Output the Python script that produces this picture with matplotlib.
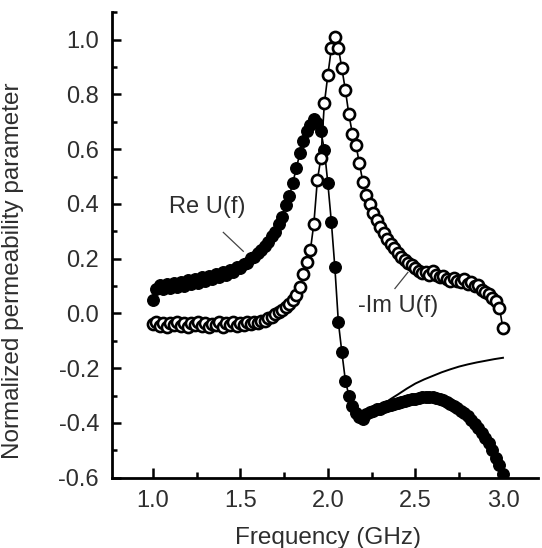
import numpy as np
import matplotlib
matplotlib.use("Agg")
import matplotlib.pyplot as plt
from matplotlib.ticker import MultipleLocator, FormatStrFormatter

plt.rcParams['font.family'] = ['Liberation Sans', 'DejaVu Sans']

# Frequency sweep (GHz), 0.02 GHz steps
freq = np.linspace(1.0, 3.0, 101)

# Real part of normalized permeability parameter
re_u = [
    0.050, 0.088, 0.104, 0.088, 0.108, 0.092, 0.112, 0.096, 0.116, 0.102,
    0.122, 0.106, 0.126, 0.112, 0.132, 0.118, 0.138, 0.124, 0.144, 0.134,
    0.152, 0.142, 0.160, 0.152, 0.168, 0.166, 0.182, 0.186, 0.202, 0.206,
    0.222, 0.230, 0.248, 0.260, 0.282, 0.298, 0.327, 0.353, 0.397, 0.428,
    0.478, 0.530, 0.585, 0.630, 0.665, 0.690, 0.710, 0.695, 0.665, 0.598,
    0.475, 0.334, 0.168, -0.032, -0.142, -0.245, -0.300, -0.337, -0.362, -0.380,
    -0.385, -0.368, -0.360, -0.356, -0.350, -0.350, -0.342, -0.338, -0.335, -0.330,
    -0.328, -0.322, -0.320, -0.316, -0.314, -0.312, -0.308, -0.306, -0.305, -0.305,
    -0.307, -0.310, -0.312, -0.318, -0.324, -0.330, -0.338, -0.346, -0.355, -0.365,
    -0.376, -0.390, -0.405, -0.420, -0.438, -0.455, -0.475, -0.500, -0.528, -0.555,
    -0.585,
]

# Negative imaginary part
neg_im_u = [
    -0.040, -0.032, -0.045, -0.036, -0.048, -0.034, -0.044, -0.030, -0.046, -0.036,
    -0.050, -0.034, -0.042, -0.030, -0.046, -0.036, -0.050, -0.038, -0.044, -0.032,
    -0.048, -0.036, -0.042, -0.030, -0.046, -0.036, -0.044, -0.032, -0.040, -0.030,
    -0.036, -0.026, -0.028, -0.016, -0.012, -0.002, 0.004, 0.014, 0.024, 0.036,
    0.048, 0.068, 0.096, 0.145, 0.188, 0.230, 0.328, 0.487, 0.566, 0.767,
    0.871, 0.968, 1.011, 0.971, 0.895, 0.816, 0.727, 0.657, 0.617, 0.548,
    0.480, 0.432, 0.398, 0.368, 0.340, 0.316, 0.292, 0.272, 0.255, 0.238,
    0.222, 0.206, 0.196, 0.186, 0.178, 0.166, 0.156, 0.146, 0.150, 0.140,
    0.156, 0.140, 0.132, 0.136, 0.124, 0.120, 0.130, 0.118, 0.114, 0.124,
    0.108, 0.116, 0.100, 0.104, 0.086, 0.080, 0.070, 0.058, 0.044, 0.020,
    -0.055,
]

# Model curve for Re U(f) beyond the resonance
fit_freq = [2.28, 2.32, 2.36, 2.40, 2.45, 2.50, 2.55, 2.60, 2.65, 2.70,
            2.75, 2.80, 2.85, 2.90, 2.95, 3.00]
fit_re = [-0.352, -0.330, -0.312, -0.296, -0.275, -0.256, -0.241, -0.228,
          -0.215, -0.204, -0.194, -0.186, -0.179, -0.173, -0.167, -0.162]

text_color = '#2e2e2e'

fig = plt.figure(figsize=(5.42, 5.48), dpi=100)
ax = fig.add_axes([0.2059, 0.1283, 0.7867, 0.8498])

ax.plot(freq, re_u, '-', color='black', lw=1.2, marker='o', ms=8.3,
        mfc='black', mec='black', mew=1.0, zorder=3)
ax.plot(freq, neg_im_u, '-', color='black', lw=1.2, marker='o', ms=8.0,
        mfc='white', mec='black', mew=1.9, zorder=4)
ax.plot(fit_freq, fit_re, '-', color='black', lw=1.4, zorder=2)

ax.text(1.31, 0.39, 'Re U(f)', fontsize=17, color=text_color,
        ha='center', va='center')
ax.plot([1.403, 1.517], [0.296, 0.227], color='#444444', lw=0.9)
ax.text(2.40, 0.026, '-Im U(f)', fontsize=17, color=text_color,
        ha='center', va='center')
ax.plot([2.383, 2.457], [0.091, 0.150], color='#444444', lw=0.9)

ax.set_xlim(0.765, 3.20)
ax.set_ylim(-0.6, 1.101)

ax.set_xticks([1.0, 1.5, 2.0, 2.5, 3.0])
ax.xaxis.set_minor_locator(MultipleLocator(0.25))
ax.yaxis.set_major_locator(MultipleLocator(0.2))
ax.yaxis.set_minor_locator(MultipleLocator(0.1))
ax.xaxis.set_major_formatter(FormatStrFormatter('%.1f'))
ax.yaxis.set_major_formatter(FormatStrFormatter('%.1f'))

for side in ('top', 'right'):
    ax.spines[side].set_visible(False)
for side in ('left', 'bottom'):
    ax.spines[side].set_linewidth(2.0)

ax.tick_params(which='major', direction='in', length=6.5, width=1.8,
               labelsize=17, labelcolor=text_color, pad=9)
ax.tick_params(which='minor', direction='in', length=3.8, width=1.8)
ax.tick_params(axis='x', which='major', length=7.5)
ax.tick_params(axis='x', which='minor', length=4.5)

ax.set_xlabel('Frequency (GHz)', fontsize=17.5, color=text_color)
ax.set_ylabel('Normalized permeability parameter', fontsize=17.5, color=text_color)
ax.xaxis.set_label_coords(0.507, -0.105)
ax.yaxis.set_label_coords(-0.205, 0.445)

fig.savefig('out.png', dpi=100)
